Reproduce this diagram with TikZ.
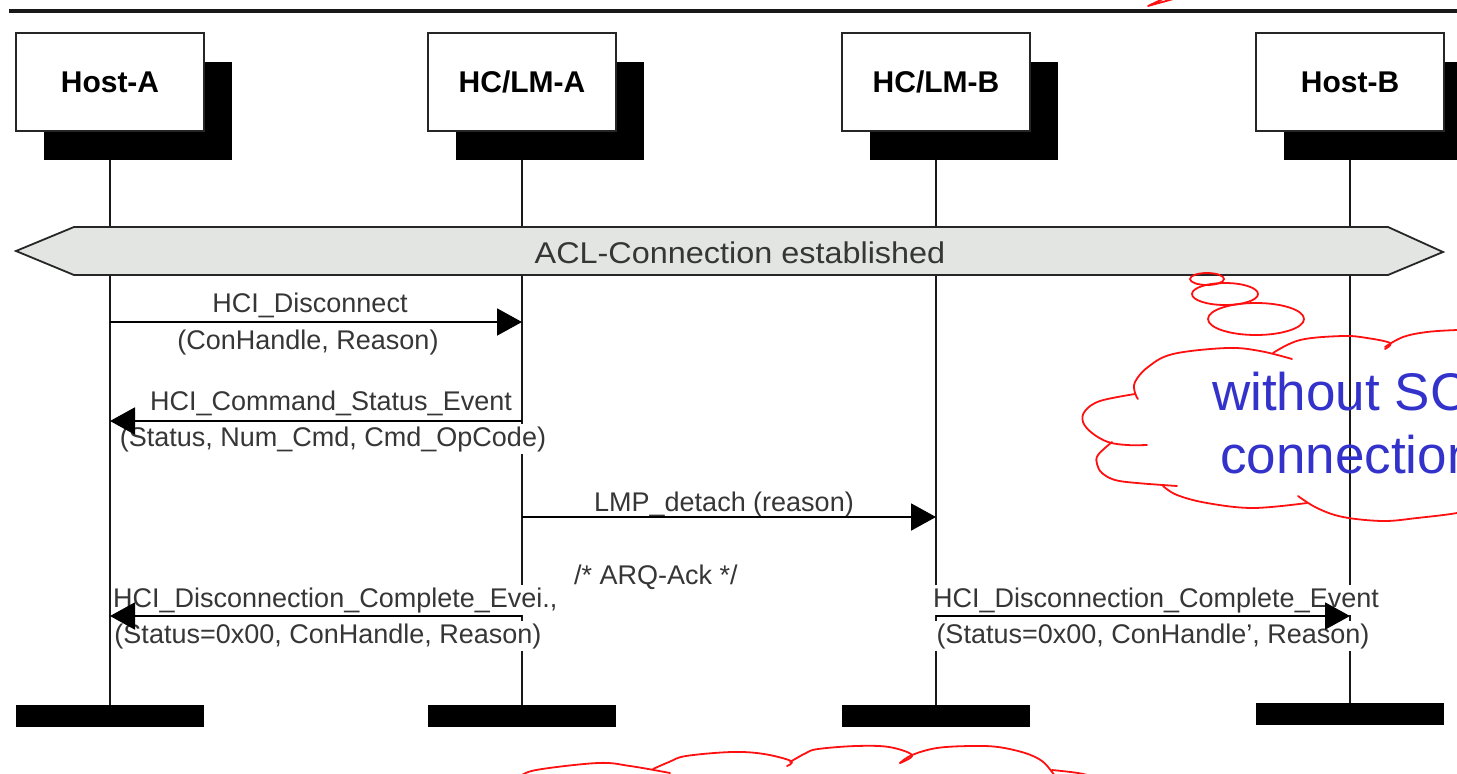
\documentclass[tikz,border=0pt]{standalone}
\usepackage{fontspec}
\setmainfont{Liberation Sans}
\newfontfamily\aclfont[FakeStretch=1.08]{Liberation Sans}
\usetikzlibrary{arrows.meta,shadows,backgrounds}
\definecolor{txtgray}{HTML}{363636}
\definecolor{aclfill}{HTML}{E3E5E3}
\definecolor{cloudred}{HTML}{FF1010}
\definecolor{cloudblue}{HTML}{3333CC}
\begin{document}
\begin{tikzpicture}[x=1pt,y=-1pt,
  actor/.style={draw=black!85, line width=2pt, fill=white, minimum width=188pt,
    minimum height=98pt, inner sep=0pt, font=\bfseries\fontsize{30}{36}\selectfont,
    general shadow={fill=black, shadow xshift=28pt, shadow yshift=-29pt}},
  endbar/.style={fill=black, minimum width=188pt, minimum height=22pt, inner sep=0pt},
  lifeline/.style={line width=2pt, black!90},
  msg/.style={line width=2pt, black, -{Triangle[length=25pt,width=27pt]}},
  lbl/.style={font=\fontsize{27}{32}\selectfont, text=txtgray, fill=white, inner sep=2pt, anchor=base},
  cloudline/.style={draw=cloudred, line width=1.8pt, line join=round, line cap=round},
  cloudtext/.style={font=\fontsize{53}{60}\selectfont, text=cloudblue, inner sep=0pt, anchor=base west},
]
\useasboundingbox (0,0) rectangle (1457,774);
\clip (0,0) rectangle (1457,774);

% top rule and red stroke
\draw[line width=4.5pt, black!90] (9,11) -- (1457,11);
\draw[cloudline] (1177,-2) -- (1148,6) -- (1165,-2);

% actors
\node[actor] (hostA) at (110,82) {Host-A};
\node[actor] (hcA)   at (522,82) {HC/LM-A};
\node[actor] (hcB)   at (936,82) {HC/LM-B};
\node[actor] (hostB) at (1350,82) {Host-B};

% end bars
\node[endbar] (endA)  at (110,716) {};
\node[endbar] (endHA) at (522,716) {};
\node[endbar] (endHB) at (936,716) {};
\node[endbar] (endB)  at (1350,714) {};

% lifelines
\begin{pgfonlayer}{background}
\draw[lifeline] (hostA.center) -- (endA.center);
\draw[lifeline] (hcA.center) -- (endHA.center);
\draw[lifeline] (hcB.center) -- (endHB.center);
\draw[lifeline] (hostB.center) -- (endB.center);
\end{pgfonlayer}

% ACL bar
\path[draw=black!85, line width=1.8pt, fill=aclfill, line join=miter]
  (16,251) -- (74,227) -- (1388,227) -- (1443,252) -- (1388,275) -- (74,275) -- cycle;
\node[font=\aclfont\fontsize{30}{36}\selectfont, text=txtgray, anchor=base, inner sep=0pt]
  (acl) at (740,263) {ACL-Connection established};

% labels
\node[lbl] (l1a) at (310,312) {HCI\_Disconnect};
\node[lbl] (l1b) at (308,349) {(ConHandle, Reason)};
\node[lbl] (l2a) at (331,410) {HCI\_Command\_Status\_Event};
\node[lbl] (l2b) at (333,446) {(Status, Num\_Cmd, Cmd\_OpCode)};
\node[lbl] (l3a) at (724,511) {LMP\_detach (reason)};
\node[lbl] (l3c) at (656,584) {/* ARQ-Ack */};
\node[lbl, anchor=base west] (l4a) at (111,607) {HCI\_Disconnection\_Complete\_Evei.,};
\node[lbl] (l4b) at (328,643) {(Status=0x00, ConHandle, Reason)};
\node[lbl] (l5a) at (1156,607) {HCI\_Disconnection\_Complete\_Event};
\node[lbl] (l5b) at (1153,643) {(Status=0x00, ConHandle’, Reason)};

% message end points
\path (hostA |- 0,322) coordinate (m1s) (hcA |- 0,322) coordinate (m1e);
\path (hcA |- 0,421) coordinate (m2s) (hostA |- 0,421) coordinate (m2e);
\path (hcA |- 0,517) coordinate (m3s) (hcB |- 0,517) coordinate (m3e);
\path (hcA |- 0,616) coordinate (m4s) (hostA |- 0,616) coordinate (m4e);
\path (hcB |- 0,616) coordinate (m5s) (hostB |- 0,616) coordinate (m5e);

\draw[msg] (m1s) -- (m1e);
\draw[msg] (m2s) -- (m2e);
\draw[msg] (m3s) -- (m3e);
\draw[msg] (m4s) -- (m4e);
\draw[msg] (m5s) -- (m5e);

% right thought cloud
\draw[cloudline] (1207,279) ellipse [x radius=17pt, y radius=6pt];
\draw[cloudline] (1225,294) ellipse [x radius=33pt, y radius=11pt];
\draw[cloudline] (1256,319) ellipse [x radius=48pt, y radius=16pt];
\draw[cloudline] plot[smooth, tension=0.6] coordinates {(1292,359) (1260,351) (1227,348) (1173,354) (1148,367) (1135,382) (1135,393) (1138,399)};
\draw[cloudline] plot[smooth, tension=0.6] coordinates {(1135,394) (1100,401) (1085,411) (1083,422) (1092,433) (1108,442) (1127,445) (1147,445)};
\draw[cloudline] plot[smooth, tension=0.6] coordinates {(1112,442) (1098,455) (1097,464) (1102,473) (1115,480) (1137,483) (1177,486)};
\draw[cloudline] plot[smooth, tension=0.6] coordinates {(1163,486) (1177,495) (1207,503) (1253,508) (1307,503)};
\draw[cloudline] plot[smooth, tension=0.6] coordinates {(1298,496) (1317,508) (1343,517) (1383,521) (1417,518) (1457,513) (1470,508)};
\draw[cloudline] plot[smooth, tension=0.6] coordinates {(1273,353) (1300,340) (1343,336) (1367,338) (1390,343) (1385,349)};
\draw[cloudline] plot[smooth, tension=0.6] coordinates {(1385,347) (1403,337) (1427,332) (1457,330) (1470,330)};
\node[cloudtext] (ct1) at (1212,410) {without SCO};
\node[cloudtext] (ct2) at (1220,473) {connection};

% bottom cloud
\draw[cloudline] plot[smooth, tension=0.6] coordinates {(520,777) (536,770) (598,763) (630,766) (670,773)};
\draw[cloudline] plot[smooth, tension=0.6] coordinates {(653,769) (669,762) (686,756) (732,752) (764,754) (791,761) (787,766)};
\draw[cloudline] plot[smooth, tension=0.6] coordinates {(790,762) (806,753) (818,749) (856,746) (889,747) (912,755) (900,763)};
\draw[cloudline] plot[smooth, tension=0.6] coordinates {(900,763) (912,755) (937,748) (971,746) (998,747) (1025,753) (1042,761) (1052,772) (1056,778)};
\draw[cloudline] plot[smooth, tension=0.6] coordinates {(1052,770) (1078,773) (1095,777)};
\end{tikzpicture}
\end{document}
